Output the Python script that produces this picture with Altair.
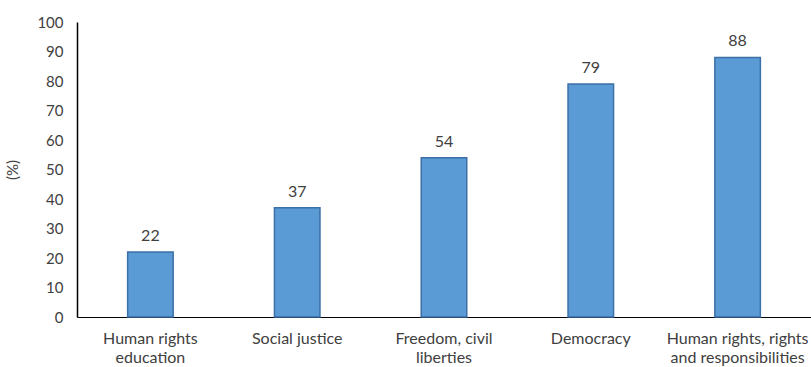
import altair as alt
import pandas as pd

categories = ["Human rights|education", "Social justice", "Freedom, civil|liberties",
              "Democracy", "Human rights, rights|and responsibilities"]
values = [22, 37, 54, 79, 88]
y_ticks = list(range(0, 101, 10))

df = pd.DataFrame({"category": categories, "value": values})

FONT = "Lato"
TXT = "#404040"
FS = 15

base = alt.Chart(df).encode(
    x=alt.X("category:N", sort=categories,
            scale=alt.Scale(paddingInner=0.69, paddingOuter=0.345),
            axis=alt.Axis(title=None, labelExpr="split(datum.label, '|')", labelAngle=0,
                          ticks=False, domainColor="#000000", domainWidth=1.2,
                          labelFont=FONT, labelFontSize=16, labelColor=TXT,
                          labelPadding=13, labelLineHeight=19, labelOverlap=False)),
    y=alt.Y("value:Q", scale=alt.Scale(domain=[0, 100], nice=False),
            axis=alt.Axis(title="(%)", values=y_ticks, grid=False, ticks=False,
                          domainColor="#000000", domainWidth=1.5,
                          labelFont=FONT, labelFontSize=FS, labelColor=TXT,
                          labelPadding=14, labelOverlap=False,
                          titleFont=FONT, titleFontSize=FS,
                          titleFontWeight="normal", titleColor=TXT, titlePadding=16)),
)

bars = base.mark_bar(color="#5B9BD5", stroke="#3B6FA6", strokeWidth=1.5)

labels = base.mark_text(dy=-16, font=FONT, fontSize=16, color=TXT).encode(
    text="value:Q"
)

chart = (bars + labels).properties(
    width=734, height=295,
    background="white",
    autosize=alt.AutoSizeParams(type="none"),
    padding={"left": 77, "top": 22, "right": 0, "bottom": 50},
).configure_view(stroke=None)

chart.save("out.html", embed_options={"renderer": "svg", "actions": False})
